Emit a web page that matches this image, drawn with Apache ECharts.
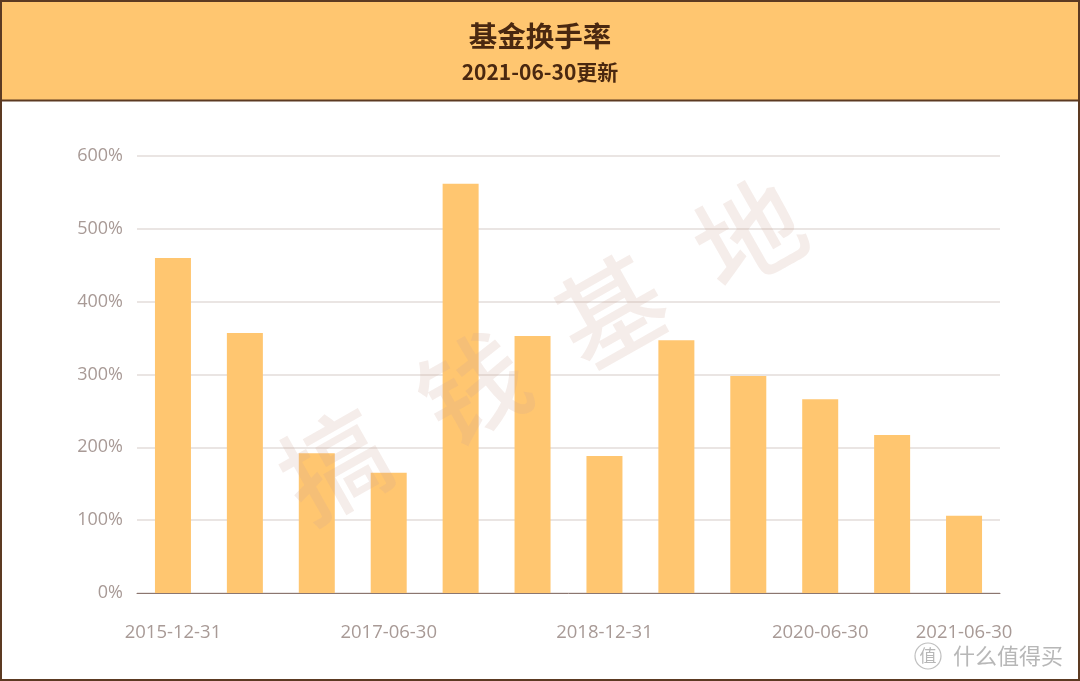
<!DOCTYPE html>
<html><head><meta charset="utf-8">
<script src="https://cdn.jsdelivr.net/npm/echarts@6/dist/echarts.min.js"></script>
<style>html,body{margin:0;padding:0;background:#fff;}#c{width:1080px;height:681px;}</style>
</head><body><div id="c"></div>
<script>
const categories = ['2015-12-31','2016-06-30','2016-12-31','2017-06-30','2017-12-31','2018-06-30','2018-12-31','2019-06-30','2019-12-31','2020-06-30','2020-12-31','2021-06-30'];
const turnover = [460, 357, 192, 165, 562, 353, 188, 347, 298, 266, 217, 106];
const yTicks = [0, 100, 200, 300, 400, 500, 600];
const titleText = '基金换手率';
const subtitleText = '2021-06-30更新';
const watermarkChars = ['搞', '钱', '基', '地'];

const shown = (i) => i % 3 === 0 || i === categories.length - 1;
const wmStart = [335, 465], wmStep = [138, -77];
const wmGraphics = watermarkChars.map((ch, k) => ({
  type:'text', z:50, silent:true,
  x: wmStart[0] + wmStep[0]*k, y: wmStart[1] + wmStep[1]*k,
  rotation: 29.5*Math.PI/180,
  style:{text:ch, fill:'rgba(205,165,150,0.2)', font:'500 106px "Noto Sans CJK SC"', align:'center', verticalAlign:'middle'}
}));
const chart = echarts.init(document.getElementById('c'), null, {renderer:'canvas'});
chart.setOption({
  backgroundColor: '#fff',
  animation: false,
  graphic: [
    {type:'rect', left:0, top:0, z:0, shape:{x:0,y:0,width:1080,height:100}, style:{fill:'#FFC670'}},
    {type:'rect', z:100, silent:true, shape:{x:1,y:1,width:1078,height:679}, style:{fill:'none', stroke:'#5C3A22', lineWidth:2}},
    {type:'line', z:100, shape:{x1:0,y1:100.5,x2:1080,y2:100.5}, style:{stroke:'#5C3A22', lineWidth:2}},
    ...wmGraphics,
    {type:'circle', z:50, shape:{cx:928, cy:656, r:13}, style:{fill:'none', stroke:'rgba(175,175,175,0.8)', lineWidth:1.2}},
    {type:'text', z:50, x:928, y:656, style:{text:'值', fill:'rgba(170,170,170,0.85)', font:'17px "Noto Sans CJK SC"', align:'center', verticalAlign:'middle'}},
    {type:'text', z:50, x:953, y:656, style:{text:'什么值得买', fill:'rgba(170,170,170,0.85)', font:'22px "Noto Sans CJK SC"', align:'left', verticalAlign:'middle'}}
  ],
  title: {
    text: titleText, subtext: subtitleText, left:'center', top:17, itemGap:11,
    textStyle:{color:'#4A2810', fontSize:28.5, fontWeight:'bold', fontFamily:'"Noto Sans CJK SC"'},
    subtextStyle:{color:'#4A2810', fontSize:21, fontWeight:'bold', fontFamily:'"Noto Sans CJK SC"'}
  },
  grid: {left:137, right:80, top:156, bottom:88},
  xAxis: {
    type:'category', data: categories,
    axisLine:{lineStyle:{color:'#8B7670', width:1}},
    axisTick:{alignWithLabel:true, interval:(i)=>shown(i), length:5, lineStyle:{color:'#8B7670'}},
    axisLabel:{interval:(i)=>shown(i), color:'#A89A96', fontSize:18.5, margin:30, fontFamily:'"Open Sans"'}
  },
  yAxis: {
    type:'value', min:0, max:600, interval:100,
    axisLine:{show:false}, axisTick:{show:false},
    axisLabel:{color:'#A89A96', fontSize:18, margin:14, formatter:'{value}%', fontFamily:'"Open Sans"'},
    splitLine:{lineStyle:{color:'#E3DCDA', width:1.5}}
  },
  series: [{
    type:'bar', data: turnover, barWidth:36,
    itemStyle:{color:'#FFC670'}
  }]
});
</script></body></html>
